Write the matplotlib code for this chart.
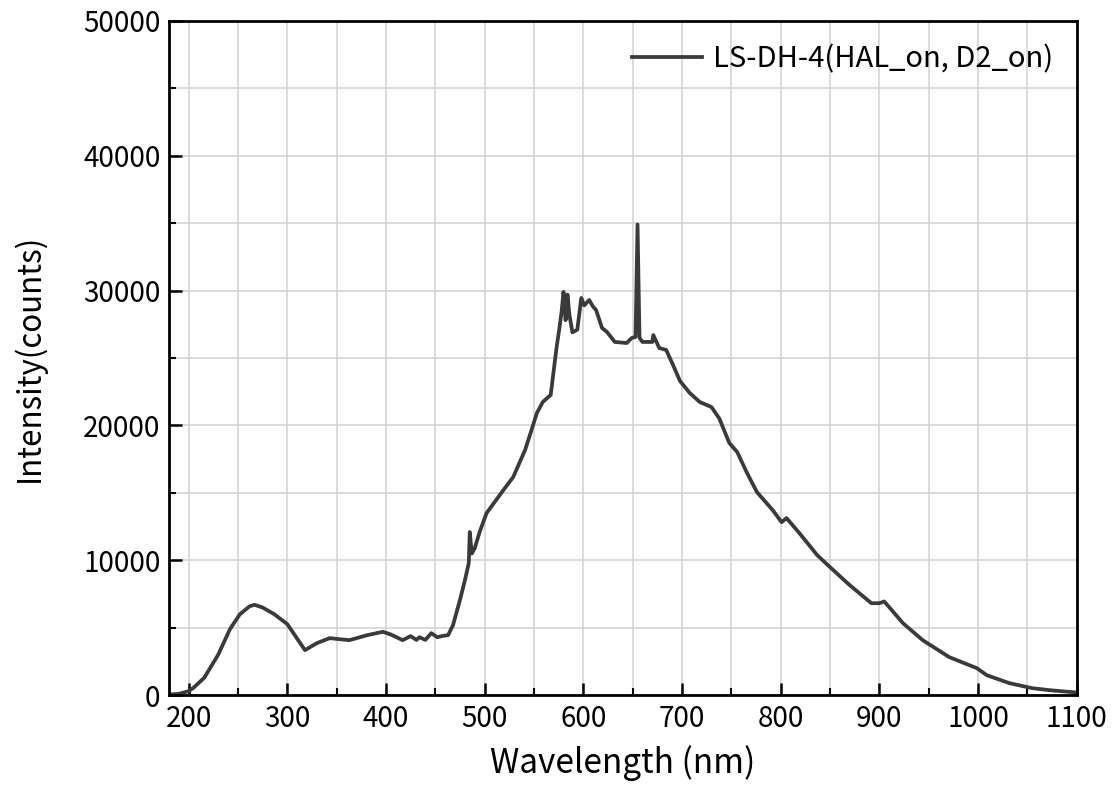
import numpy as np
import matplotlib
matplotlib.use("Agg")
import matplotlib.pyplot as plt
from matplotlib.ticker import MultipleLocator

plt.rcParams['font.family'] = ['Noto Sans CJK JP', 'DejaVu Sans']

# spectrum (wavelength nm, intensity counts)
wavelength = [180, 190, 200, 205, 216, 230, 242, 252, 262, 267, 275, 287, 300, 310, 318,
              330, 343, 363, 381, 397, 405, 417, 425, 431, 434, 440, 446, 452, 458, 463,
              468, 475, 480, 484, 485, 487, 490, 495, 502, 512, 520, 529, 541, 546, 553, 559,
              567, 573, 576, 578, 580, 582, 583, 584, 586, 589, 594, 598, 601, 606, 610, 613, 619, 624, 632,
              644, 649, 653, 655, 657, 660, 670, 671, 677, 684, 691, 698, 708, 718, 730,
              738, 748, 756, 766, 776, 792, 801, 806, 819, 837, 850, 870, 892, 900, 905,
              910, 924, 944, 971, 999, 1009, 1032, 1055, 1073, 1100]
intensity = [50, 100, 300, 550, 1300, 3000, 4900, 6000, 6600, 6700, 6500, 6000, 5270, 4200, 3340,
             3860, 4230, 4080, 4450, 4700, 4500, 4080, 4380, 4100, 4300, 4100, 4600, 4300, 4400, 4450,
             5190, 7050, 8500, 9800, 12100, 10500, 10900, 12100, 13500, 14500, 15300, 16170, 18170, 19300, 20920, 21740,
             22260, 25800, 27300, 28400, 29900, 27800, 28000, 29700, 28200, 26900, 27100, 29450, 28900, 29300, 28800, 28560, 27230, 26930, 26190,
             26110, 26480, 26560, 34900, 26500, 26190, 26190, 26700, 25740, 25600, 24480, 23300, 22400, 21740, 21360,
             20500, 18700, 18030, 16470, 15060, 13720, 12830, 13130, 12020, 10390, 9500, 8160, 6820, 6820, 6950,
             6530, 5340, 4080, 2820, 2000, 1480, 890, 520, 370, 200]
legend_label = "LS-DH-4(HAL_on, D2_on)"

fig, ax = plt.subplots(figsize=(11.18, 8.0), dpi=100)
fig.subplots_adjust(left=0.151, right=0.963, top=0.974, bottom=0.131)

ax.plot(wavelength, intensity, color="#3a3a3a", linewidth=2.7, label=legend_label)

ax.set_xlim(180, 1100)
ax.set_ylim(0, 50000)
ax.xaxis.set_major_locator(MultipleLocator(100))
ax.xaxis.set_minor_locator(MultipleLocator(50))
ax.yaxis.set_major_locator(MultipleLocator(10000))
ax.yaxis.set_minor_locator(MultipleLocator(5000))
ax.grid(which="both", color="#d4d4d4", linewidth=1.2)
ax.set_axisbelow(True)
ax.tick_params(which="major", direction="in", length=9, width=1.8, labelsize=20, pad=6)
ax.tick_params(which="minor", direction="in", length=5, width=1.5)
ax.tick_params(which="both", top=False, right=False)
for s in ax.spines.values():
    s.set_linewidth(2.0)
    s.set_color("black")

ax.set_xlabel("Wavelength (nm)", fontsize=24, labelpad=8)
ax.set_ylabel("Intensity(counts)", fontsize=22.5, labelpad=27)
ax.legend(loc="upper right", frameon=False, fontsize=21, handlelength=2.4,
          handletextpad=0.4, borderaxespad=0.4)

fig.savefig("out.png", dpi=100, facecolor="white")
